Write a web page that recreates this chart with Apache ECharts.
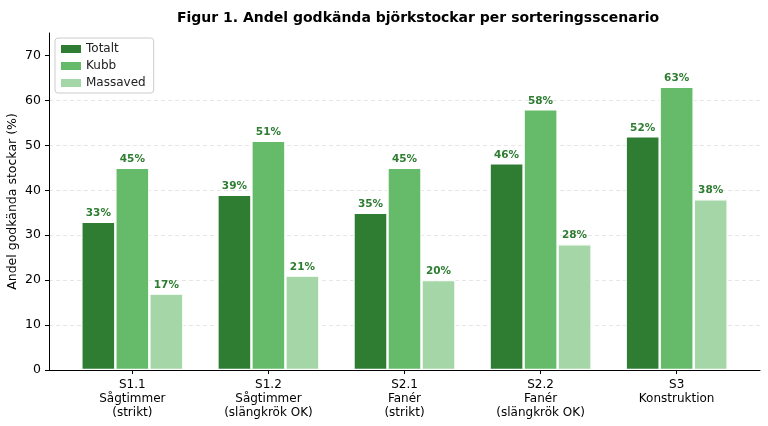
<!DOCTYPE html>
<html><head><meta charset="utf-8">
<script src="https://cdn.jsdelivr.net/npm/echarts@6/dist/echarts.min.js"></script>
<style>html,body{margin:0;padding:0;background:#fff}#c{width:768px;height:426px}</style>
</head><body><div id="c"></div>
<script>
const categories = ['S1.1\nSågtimmer\n(strikt)', 'S1.2\nSågtimmer\n(slängkrök OK)', 'S2.1\nFanér\n(strikt)', 'S2.2\nFanér\n(slängkrök OK)', 'S3\nKonstruktion'];
const totalt = [33, 39, 35, 46, 52];
const kubb = [45, 51, 45, 58, 63];
const massaved = [17, 21, 20, 28, 38];
const yTicks = [0, 10, 20, 30, 40, 50, 60, 70];
const seriesNames = ['Totalt', 'Kubb', 'Massaved'];
const colors = ['#2e7d32', '#66bb6a', '#a5d6a7'];
const FONT = 'DejaVu Sans';

const chart = echarts.init(document.getElementById('c'), null, {renderer: 'canvas'});
const idx = categories.map((_, i) => i);
function mk(name, vals, color) {
  return {
    name, type: 'bar', barWidth: 34, barGap: '0%',
    data: vals.map((v, i) => [i, v]),
    itemStyle: {color, borderColor: '#fff', borderWidth: 1.2},
    label: {show: true, position: 'top', distance: 3, formatter: p => p.value[1] + '%',
      color: '#2e7d32', fontWeight: 'bold', fontSize: 10.5, fontFamily: FONT},
    emphasis: {disabled: true}
  };
}
chart.setOption({
  animation: false,
  textStyle: {fontFamily: FONT},
  title: {text: 'Figur 1. Andel godkända björkstockar per sorteringsscenario', left: 413, textAlign: 'center', top: 6,
    textStyle: {fontFamily: FONT, fontWeight: 'bold', fontSize: 14, color: '#000'}},
  legend: {orient: 'vertical', left: 55, top: 38, padding: [5, 8, 4, 6], itemGap: 5, itemWidth: 20, itemHeight: 8,
    borderColor: '#cccccc', borderWidth: 1, borderRadius: 3, backgroundColor: '#fff',
    textStyle: {fontFamily: FONT, fontSize: 12, color: '#222'},
    data: seriesNames.map((n, i) => ({name: n, icon: 'rect', itemStyle: {color: colors[i], borderWidth: 0}}))},
  grid: {left: 49, right: 8, top: 33, bottom: 56, containLabel: false, outerBoundsMode: 'none'},
  xAxis: {type: 'value', min: -0.6125, max: 4.6125,
    axisLine: {show: true, onZero: false, lineStyle: {color: '#000', width: 1}},
    axisTick: {show: true, customValues: idx, length: 4, lineStyle: {color: '#000'}},
    axisLabel: {customValues: idx, formatter: v => categories[Math.round(v)], color: '#000', fontSize: 12, lineHeight: 14, margin: 8, fontFamily: FONT},
    splitLine: {show: false}},
  yAxis: {type: 'value', min: 0, max: 75,
    name: 'Andel godkända stockar (%)', nameLocation: 'middle', nameGap: 30, nameRotate: 90, nameMoveOverlap: false,
    nameTextStyle: {fontFamily: FONT, fontSize: 12.5, color: '#000'},
    axisLine: {show: true, onZero: false, lineStyle: {color: '#000', width: 1}},
    axisTick: {show: true, customValues: yTicks, length: 4, lineStyle: {color: '#000'}},
    axisLabel: {customValues: yTicks, color: '#000', fontSize: 12.5, margin: 8, fontFamily: FONT},
    splitLine: {show: true, showMaxLine: false, lineStyle: {color: '#e6e6e6', type: [4, 3], width: 1}}},
  series: [mk(seriesNames[0], totalt, colors[0]), mk(seriesNames[1], kubb, colors[1]), mk(seriesNames[2], massaved, colors[2])]
});
</script></body></html>
